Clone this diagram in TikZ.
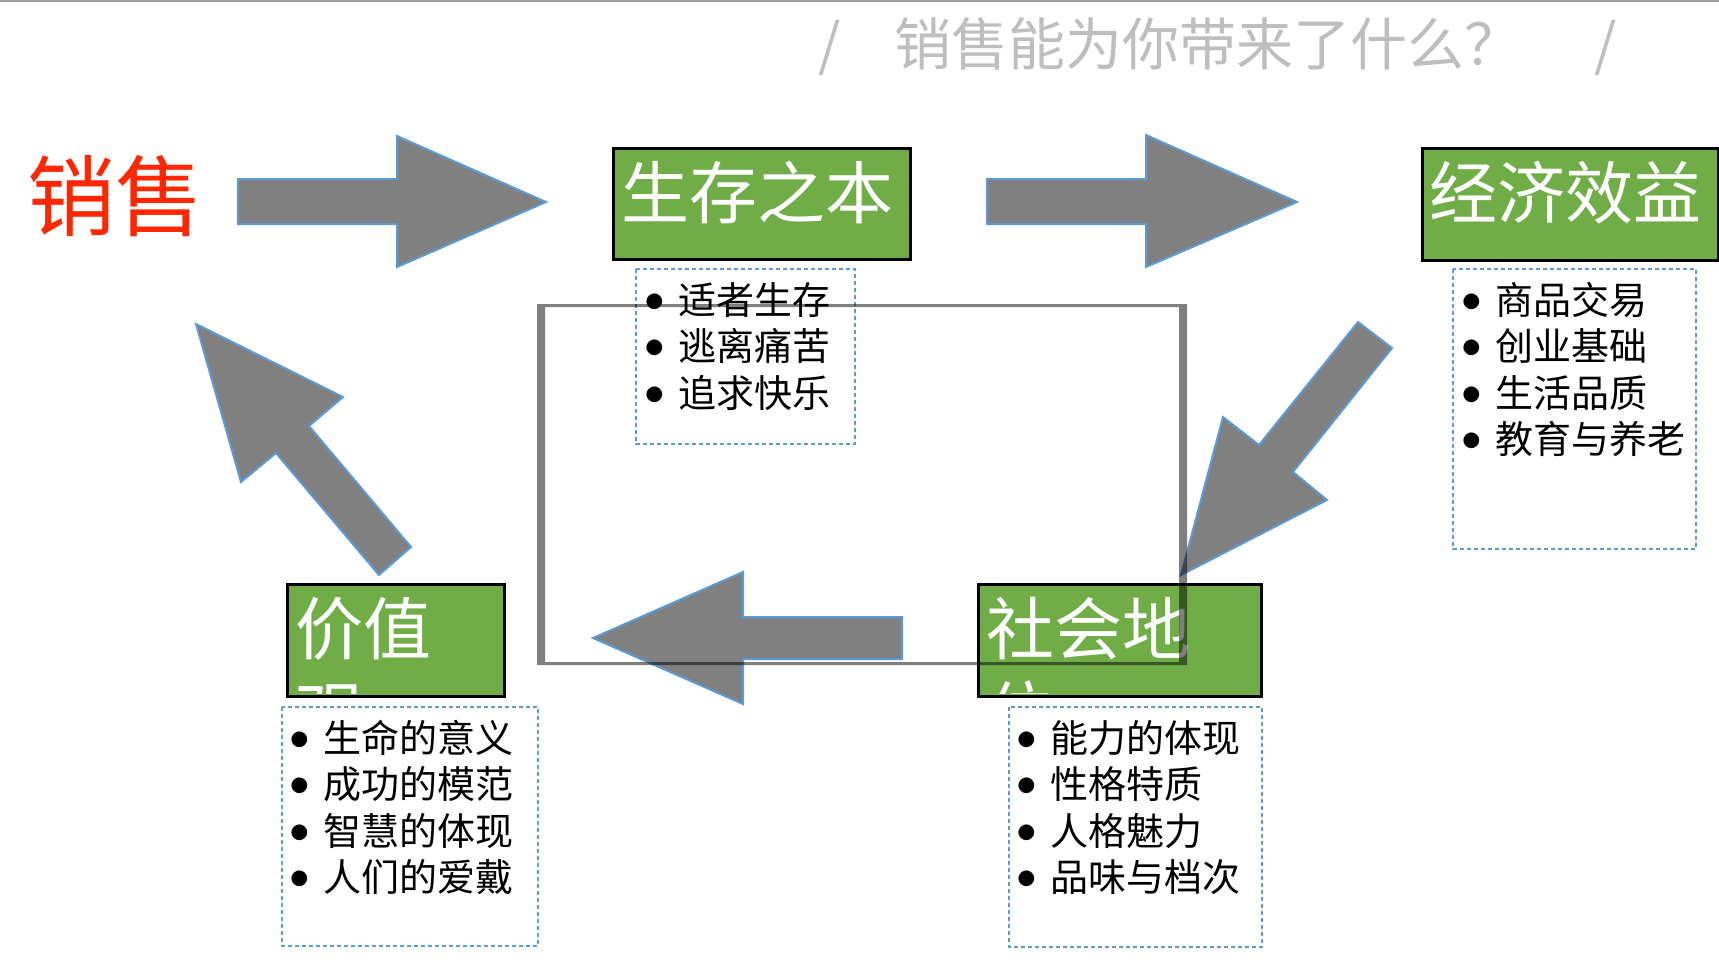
\documentclass[tikz,border=0pt]{standalone}
\usepackage{fontspec}
\newfontfamily\cjk{Noto Sans CJK SC}
\definecolor{arrowgray}{RGB}{128,128,128}
\definecolor{arrowblue}{RGB}{91,155,213}
\definecolor{boxgreen}{RGB}{112,173,71}
\definecolor{titlegray}{RGB}{190,190,190}
\definecolor{salesred}{RGB}{255,38,0}
\newcommand\itembul{\makebox[0pt][c]{\smash{\rmfamily\fontsize{38}{38}\selectfont\raisebox{-6pt}{\scalebox{1.85}{\textbullet}}}}\hspace{23pt}}
\newcommand\itemlist[1]{\parbox[t]{230pt}{\cjk\fontsize{38}{46.5}\selectfont #1}}
\begin{document}
\begin{tikzpicture}[x=1pt,y=-1pt,
  bigarrow/.style={fill=arrowgray, draw=arrowblue, line width=2pt, line join=miter},
  greenbox/.style={fill=boxgreen, draw=black, line width=2.5pt, anchor=north west, inner sep=0pt},
  dotbox/.style={draw=arrowblue, line width=2.2pt, dash pattern=on 4pt off 3pt},
  headtext/.style={font=\cjk\fontsize{68}{84}\selectfont, text=white, anchor=base west, inner sep=0pt},
  itemtext/.style={anchor=base west, inner sep=0pt},
  titletext/.style={font=\cjk\fontsize{57}{57}\selectfont, text=titlegray, anchor=base west, inner sep=0pt},
]
\useasboundingbox (0,0) rectangle (1719,970);
\fill[white] (0,0) rectangle (1719,970);
\draw[gray!75, line width=2pt] (0,1) -- (1719,1);

% title
\node[titletext] (sl1) at (818,65) {/};
\node[titletext] (title) at (894,65) {销售能为你带来了什么？};
\node[titletext] (sl2) at (1594,65) {/};

% red label
\node[font=\cjk\fontsize{88}{88}\selectfont, text=salesred, anchor=base west, inner sep=0pt] (sales) at (27,229) {销售};

% block arrows
\draw[bigarrow] (238,179) -- (397,179) -- (397,136) -- (546,202) -- (397,267) -- (397,224) -- (238,224) -- cycle;
\draw[bigarrow] (987,179) -- (1146,179) -- (1146,135) -- (1297,202) -- (1146,267) -- (1146,224) -- (987,224) -- cycle;
\draw[bigarrow] (1358,322) -- (1392,348) -- (1293,472) -- (1327,500) -- (1181,575) -- (1223,417) -- (1259,445) -- cycle;
\draw[bigarrow] (902,617) -- (743,617) -- (743,572) -- (593,638) -- (743,704) -- (743,659) -- (902,659) -- cycle;
\draw[bigarrow] (196,324) -- (343,397) -- (309,426) -- (411,547) -- (379,575) -- (276,453) -- (241,482) -- cycle;

% green boxes
\node[greenbox, minimum width=297pt, minimum height=111pt] (b1) at (612,147) {};
\node[headtext] (t1) at (621,218) {生存之本};
\node[greenbox, minimum width=296pt, minimum height=112pt] (b2) at (1421,147) {};
\node[headtext] (t2) at (1429,218) {经济效益};
\node[greenbox, minimum width=217pt, minimum height=112pt] (b3) at (286,583) {};
\begin{scope}
  \clip (287.5,584.5) rectangle (501.5,693.5);
  \node[headtext] (t3a) at (295,654) {价值};
  \node[headtext] (t3b) at (295,738) {观};
\end{scope}
\node[greenbox, minimum width=283pt, minimum height=112pt] (b4) at (977,583) {};
\begin{scope}
  \clip (978.5,584.5) rectangle (1258.5,693.5);
  \node[headtext] (t4a) at (986,654) {社会地};
  \node[headtext] (t4b) at (986,738) {位};
\end{scope}

% dotted boxes
\draw[dotbox] (636,269) rectangle (855,444);
\draw[dotbox] (1453,269) rectangle (1696,549);
\draw[dotbox] (282,707) rectangle (538,946);
\draw[dotbox] (1009,707) rectangle (1262,947);

% lists
\node[itemtext] (la) at (655,314) {\itemlist{\itembul 适者生存\\\itembul 逃离痛苦\\\itembul 追求快乐}};
\node[itemtext] (lb) at (1472,314) {\itemlist{\itembul 商品交易\\\itembul 创业基础\\\itembul 生活品质\\\itembul 教育与养老}};
\node[itemtext] (lc) at (300,752) {\itemlist{\itembul 生命的意义\\\itembul 成功的模范\\\itembul 智慧的体现\\\itembul 人们的爱戴}};
\node[itemtext] (ld) at (1027,752) {\itemlist{\itembul 能力的体现\\\itembul 性格特质\\\itembul 人格魅力\\\itembul 品味与档次}};

% central frame
\fill[black, opacity=0.5, even odd rule] (537,304) rectangle (1187,665) (545,307) rectangle (1179,662);
\end{tikzpicture}
\end{document}
